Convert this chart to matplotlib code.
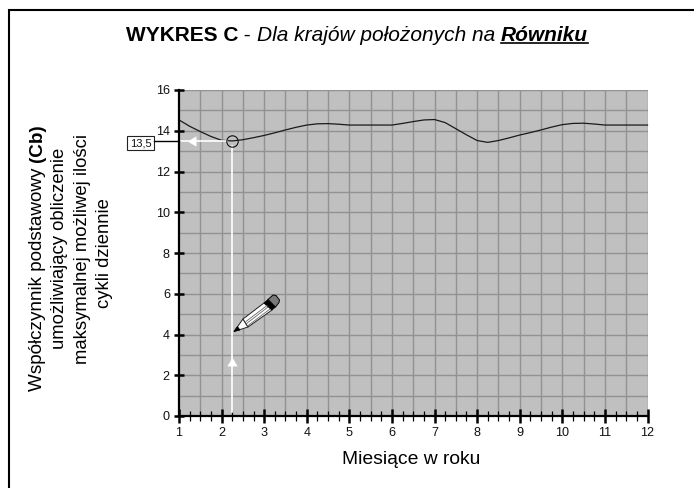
import matplotlib
matplotlib.use("Agg")
import matplotlib.pyplot as plt
from matplotlib.patches import Polygon, Rectangle
import numpy as np

plt.rcParams['font.family'] = ['Liberation Sans', 'DejaVu Sans']

# --- data ---
months = [1, 1.25, 1.5, 1.75, 2, 2.25, 2.5, 2.75, 3, 3.25, 3.5, 3.75, 4, 4.25, 4.5, 4.75,
          5, 5.25, 5.5, 5.75, 6, 6.25, 6.5, 6.75, 7, 7.25, 7.5, 7.75, 8, 8.25, 8.5, 8.75,
          9, 9.25, 9.5, 9.75, 10, 10.25, 10.5, 10.75, 11, 11.25, 11.5, 11.75, 12]
cb = [14.53, 14.22, 13.96, 13.72, 13.53, 13.50, 13.56, 13.66, 13.77, 13.90, 14.04, 14.17,
      14.28, 14.34, 14.35, 14.32, 14.28, 14.28, 14.28, 14.28, 14.28, 14.36, 14.45, 14.53,
      14.55, 14.40, 14.10, 13.80, 13.52, 13.43, 13.52, 13.65, 13.79, 13.91, 14.04, 14.18,
      14.30, 14.36, 14.37, 14.33, 14.28, 14.28, 14.28, 14.28, 14.28]
month_ticks = list(range(1, 13))
cb_ticks = list(range(0, 17, 2))
read_month = 2.25
read_cb = 13.5
read_label = "13,5"
title_parts = [("WYKRES C", "bold", "normal", False),
               (" - ", "normal", "normal", False),
               ("Dla krajów położonych na ", "normal", "italic", False),
               ("Równiku", "bold", "italic", True)]
xlabel = "Miesiące w roku"
ylabel_first = [("Współczynnik podstawowy ", "normal"), ("(Cb)", "bold")]
ylabel_lines = ["umożliwiający obliczenie", "maksymalnej możliwej ilości", "cykli dziennie"]

W, H = 694, 488
fig = plt.figure(figsize=(W / 100, H / 100), dpi=100, facecolor='white')

pg = fig.add_axes([0, 0, 1, 1], zorder=5)
pg.set_xlim(0, W); pg.set_ylim(H, 0); pg.axis('off'); pg.patch.set_alpha(0)

L, R, T, B = 179, 647.5, 90, 416
ax = fig.add_axes([L / W, 1 - B / H, (R - L) / W, (B - T) / H], zorder=2)
ax.set_xlim(1, 12); ax.set_ylim(0, 16)
ax.set_facecolor('#c0c0c0')
ax.set_xticks(month_ticks)
ax.set_xticks(np.arange(1, 12.01, 0.25), minor=True)
ax.set_yticks(cb_ticks)
ax.set_yticks(range(0, 17), minor=True)

for v in np.arange(1.5, 12.01, 0.5):
    ax.axvline(v, color='#929292', lw=1.0, zorder=1)
for v in range(1, 17):
    ax.axhline(v, color='#929292', lw=1.0, zorder=1)

for s in ['top', 'right']:
    ax.spines[s].set_visible(False)
for s in ['left', 'bottom']:
    ax.spines[s].set_linewidth(1.6)
    ax.spines[s].set_color('black')
    ax.spines[s].set_zorder(4)

ax.tick_params(axis='x', which='major', direction='inout', length=10, width=1.8,
               labelsize=9.1, pad=3, color='black', labelcolor='#111111')
ax.tick_params(axis='x', which='minor', direction='inout', length=7.2, width=0.9, color='black')
ax.tick_params(axis='y', which='major', direction='inout', length=7, width=1.8,
               labelsize=9.1, pad=3, color='black', labelcolor='#111111')
ax.tick_params(axis='y', which='minor', length=0)
ax.set_axisbelow(False)

ax.plot(months, cb, color='#1a1a1a', lw=0.9, zorder=3, clip_on=False)

# white reading lines with arrow heads
ax.plot([read_month, read_month], [0.2, read_cb - 0.25], color='white', lw=1.2, zorder=3)
ax.plot([1, read_month - 0.12], [read_cb, read_cb], color='white', lw=1.2, zorder=3)
ax.plot([read_month], [2.6], marker=(3, 0, 0), color='white', ms=8.5, mew=0, zorder=3)
ax.plot([1.34], [read_cb], marker=(3, 0, 90), color='white', ms=8.5, mew=0, zorder=3)
ax.plot([read_month], [read_cb], marker='o', mfc='none', mec='#111111', ms=8.2, mew=0.8, zorder=4)

# value box
x_d, y_d = pg.transData.inverted().transform(ax.transData.transform((1, read_cb)))
pg.plot([154, x_d], [y_d, y_d], color='black', lw=1.0)
pg.add_patch(Rectangle((127, 136), 27, 14, fc='white', ec='#222222', lw=0.8))
pg.text(140.5, 143.4, read_label, ha='center', va='center', fontsize=8, color='#111111')

# frame (left and top only)
pg.plot([9, 9, W], [H, 10, 10], color='black', lw=1.5, solid_joinstyle='miter', clip_on=False)

renderer = fig.canvas.get_renderer()

# title, built from pieces
fs = 15.0
artists = []
total = 0
for s, w, st, u in title_parts:
    t = pg.text(0, 41, s.replace(' ', '\u00a0'), fontsize=fs, fontweight=w, fontstyle=st,
                ha='left', va='baseline')
    e = t.get_window_extent(renderer)
    artists.append((t, e.width, u))
    total += e.width
x = 356.8 - total / 2
for t, w, u in artists:
    t.set_x(x)
    if u:
        pg.plot([x, x + w], [43, 43], color='black', lw=1.2)
    x += w

# axis labels
pg.text(411, 464, xlabel, fontsize=13.9, ha='center', va='baseline')

yfs = 13.3
pieces = []
total = 0
for s, w in ylabel_first:
    t = pg.text(42, 0, s.replace(' ', '\u00a0'), fontsize=13.6, fontweight=w, rotation=90,
                rotation_mode='anchor', ha='left', va='baseline')
    h = t.get_window_extent(renderer).height
    pieces.append((t, h))
    total += h
yy = 258 + total / 2
for t, h in pieces:
    t.set_y(yy)
    yy -= h
for xx, yc, s in zip([64.5, 87.5, 109.5], [248, 249, 253], ylabel_lines):
    pg.text(xx, yc, s, fontsize=yfs, rotation=90, rotation_mode='anchor',
            ha='center', va='baseline')

# pencil drawing
pg.add_patch(Polygon([(234, 331.5), (243, 319), (248, 327)], fc='white', ec='#222222', lw=0.7))
pg.add_patch(Polygon([(234, 331.5), (237.5, 326.5), (240, 330)], fc='black', ec='black', lw=0.5))
pg.add_patch(Polygon([(243, 319), (264, 303), (272, 310), (248, 327)], fc='white', ec='#222222', lw=0.7))
pg.plot([246, 267], [321.5, 305.5], color='#666666', lw=0.6)
pg.plot([246, 268], [324, 307], color='#666666', lw=0.6)
pg.plot([247.5, 270], [326, 309], color='#666666', lw=0.6)
pg.add_patch(Polygon([(264, 303), (268, 299.5), (275.5, 307), (272, 310)], fc='black', ec='black', lw=0.5))
pg.add_patch(Polygon([(268, 299.5), (273, 295), (276, 295.5), (279.5, 300), (279, 302.5), (275.5, 307)],
                     fc='#7a7a7a', ec='black', lw=0.7))

fig.savefig('out.png', dpi=100)
